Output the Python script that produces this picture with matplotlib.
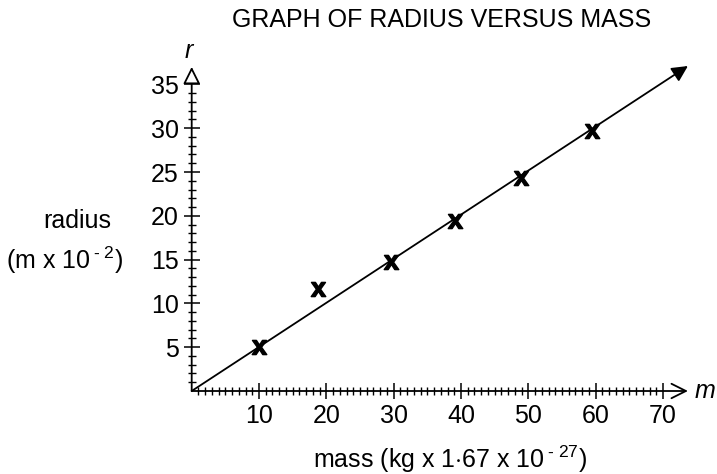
import matplotlib
matplotlib.use("Agg")
import matplotlib.pyplot as plt
from matplotlib.ticker import FixedLocator

plt.rcParams['font.family'] = ['Liberation Sans', 'DejaVu Sans']
plt.rcParams['mathtext.fontset'] = 'custom'
plt.rcParams['mathtext.rm'] = 'Liberation Sans'
plt.rcParams['mathtext.it'] = 'Liberation Sans:italic'
plt.rcParams['mathtext.bf'] = 'Liberation Sans:bold'

# data
mass = [10, 18.8, 29.6, 39.1, 48.9, 59.5]
radius = [5, 11.6, 14.7, 19.4, 24.3, 29.7]
line_x = [0, 73.7]
line_y = [0, 37.1]
x_major = [10, 20, 30, 40, 50, 60, 70]
y_major = [5, 10, 15, 20, 25, 30, 35]
x_minor = [v for v in range(1, 71) if v % 10 != 0]
y_minor = [v for v in range(1, 36) if v % 5 != 0]

FS = 18
fig = plt.figure(figsize=(7.17, 4.74), dpi=100)
sx, sy = 6.733, 8.76
ox, oy = 191.7, 391
xmax, ymax = 80, 40
ax = fig.add_axes([ox / 717, (474 - oy) / 474, xmax * sx / 717, ymax * sy / 474])
ax.set_xlim(0, xmax)
ax.set_ylim(0, ymax)
for s in ax.spines.values():
    s.set_visible(False)
ax.patch.set_visible(False)

ax.xaxis.set_major_locator(FixedLocator(x_major))
ax.xaxis.set_minor_locator(FixedLocator(x_minor))
ax.yaxis.set_major_locator(FixedLocator(y_major))
ax.yaxis.set_minor_locator(FixedLocator(y_minor))
ax.tick_params(which='major', direction='inout', length=11, width=1.1, labelsize=FS, pad=4)
ax.tick_params(which='minor', direction='inout', length=6, width=1.0)
ax.tick_params(axis='y', which='major', pad=4)

# axes with arrows
ax.annotate('', xy=(73.7, 0), xytext=(0, 0),
            arrowprops=dict(arrowstyle='->', lw=1.3, color='black', mutation_scale=26, shrinkA=0, shrinkB=0))
ax.annotate('', xy=(0, 37.0), xytext=(0, 0),
            arrowprops=dict(arrowstyle='-|>', lw=1.3, color='black', fc='white', mutation_scale=26, shrinkA=0, shrinkB=0))

# best fit line with arrow
ax.annotate('', xy=(line_x[1], line_y[1]), xytext=(line_x[0], line_y[0]),
            arrowprops=dict(arrowstyle='-|>', lw=1.3, color='black', mutation_scale=24, shrinkA=0, shrinkB=0))

ax.plot(mass, radius, linestyle='none', marker=r'$\mathbf{x}$', markersize=10.5, color='black')

ax.text(-0.4, 38.8, 'r', fontsize=FS, style='italic', ha='center', va='center')
ax.text(76.2, 0, 'm', fontsize=FS, style='italic', ha='center', va='center')

fig.text(442 / 717, 1 - 20 / 474, 'GRAPH OF RADIUS VERSUS MASS', fontsize=FS, ha='center', va='center')
fig.text(77 / 717, 1 - 221 / 474, 'radius', fontsize=FS, ha='center', va='center')
fig.text(65 / 717, 1 - 260 / 474, r'(m x 10$\,^{\text{- 2}}$)', fontsize=FS, ha='center', va='center')
fig.text(450 / 717, 1 - 468 / 474, r'mass (kg x 1$\cdot$67 x 10$\,^{\text{- 27}}$)', fontsize=FS, ha='center', va='baseline')

fig.savefig('out.png', dpi=100)
